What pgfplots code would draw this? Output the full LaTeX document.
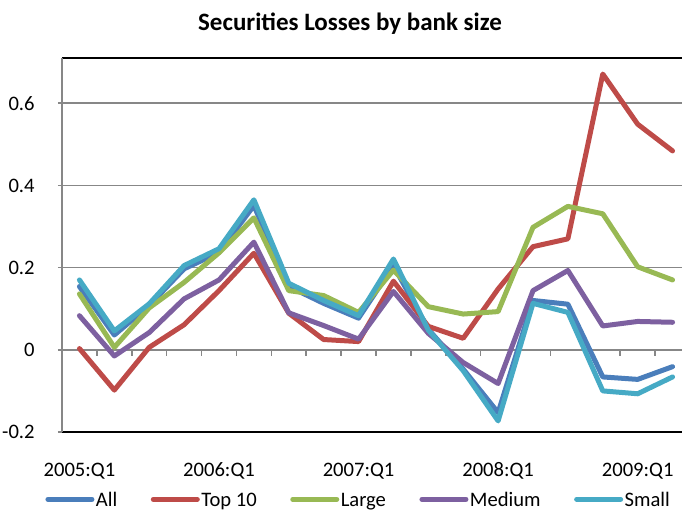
\documentclass[border=0pt]{standalone}
\usepackage{fontspec}
\setmainfont{Carlito}
\usepackage{pgfplots}
\pgfplotsset{compat=1.18}
\usepackage{pgfplotstable}
\definecolor{cAll}{HTML}{4A7EBB}
\definecolor{cTop}{HTML}{BE4B48}
\definecolor{cLarge}{HTML}{98B954}
\definecolor{cMed}{HTML}{7D60A0}
\definecolor{cSmall}{HTML}{46AAC5}
\definecolor{gridgray}{HTML}{878787}

\pgfplotstableread{
i  All     Top     Large   Medium  Small
0  0.154   0.003   0.136   0.083   0.170
1  0.036  -0.098   0.006  -0.015   0.046
2  0.108   0.006   0.102   0.042   0.112
3  0.197   0.061   0.164   0.124   0.205
4  0.237   0.144   0.236   0.170   0.246
5  0.351   0.235   0.321   0.262   0.365
6  0.154   0.089   0.144   0.090   0.162
7  0.113   0.025   0.132   0.059   0.120
8  0.077   0.020   0.091   0.026   0.083
9  0.205   0.167   0.194   0.142   0.221
10 0.050   0.057   0.105   0.040   0.048
11 -0.047  0.028   0.087  -0.031  -0.051
12 -0.153  0.148   0.093  -0.082  -0.173
13 0.120   0.251   0.298   0.144   0.113
14 0.111   0.270   0.349   0.193   0.091
15 -0.066  0.671   0.331   0.058  -0.100
16 -0.072  0.549   0.202   0.069  -0.107
17 -0.041  0.484   0.170   0.067  -0.066
}\data

\begin{document}
\begin{tikzpicture}
\path[use as bounding box, clip] (0,0) rectangle (341bp,256bp);
\node[anchor=base, font=\bfseries\fontsize{12.5bp}{14bp}\selectfont] at (175bp,240.5bp) {Securities Losses by bank size};
\begin{axis}[
  at={(31bp,40bp)}, anchor=south west,
  scale only axis, width=314bp, height=187bp,
  xmin=-0.5, xmax=17.5, ymin=-0.2, ymax=0.71,
  xtick={0,4,8,12,16},
  xticklabels={2005:Q1,2006:Q1,2007:Q1,2008:Q1,2009:Q1},
  x tick style={draw=none},
  ytick={-0.2,0,0.2,0.4,0.6},
  yticklabels={-0.2,0,0.2,0.4,0.6},
  ymajorgrids, major grid style={gridgray, line width=0.75bp},
  separate axis lines,
  x axis line style={black, line width=1bp},
  y axis line style={gridgray, line width=0.75bp},
  y tick style={gridgray, line width=0.75bp},
  tick align=outside, major tick length=2bp,
  ytick pos=left, xtick pos=bottom,
  ticklabel style={font=\fontsize{10.3bp}{12bp}\selectfont, text=black},
  xticklabel style={anchor=base, yshift=-20bp, inner sep=0pt},
  yticklabel style={anchor=east, inner sep=0pt, xshift=-11.5bp},
  legend columns=5,
  legend image code/.code={\draw[#1, line cap=round] (0bp,0bp) -- (22bp,0bp);},
  legend style={draw=none, fill=none, at={(axis description cs:-0.027,-0.18)}, anchor=west,
    inner sep=0pt, font=\fontsize{10.3bp}{12bp}\selectfont,
    nodes={inner sep=0.75bp, text height=7bp, text depth=0pt},
    /tikz/every even column/.append style={column sep=16bp}},
  legend cell align=left,
  every axis plot/.append style={line width=2.5bp, line join=round, line cap=round},
]
\pgfplotsinvokeforeach{0,...,16}{\draw[gridgray, line width=0.75bp] (axis cs:#1.5,0) -- ++(0bp,-3bp);}
\addplot[cAll] table[x=i,y=All]{\data};
\addplot[cTop] table[x=i,y=Top]{\data};
\addplot[cLarge] table[x=i,y=Large]{\data};
\addplot[cMed] table[x=i,y=Medium]{\data};
\addplot[cSmall] table[x=i,y=Small]{\data};
\legend{All,Top 10,Large,Medium,Small}
\end{axis}
\end{tikzpicture}
\end{document}
